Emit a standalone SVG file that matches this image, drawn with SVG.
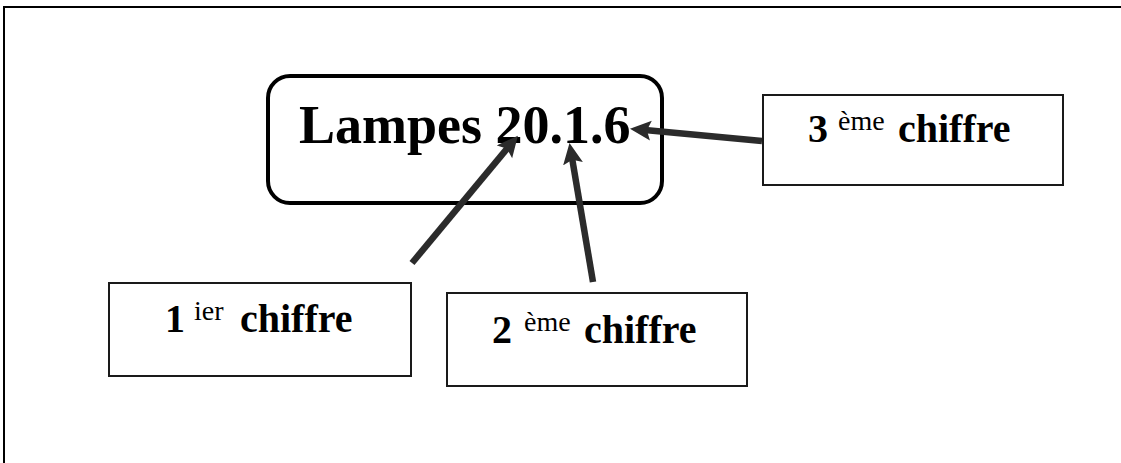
<svg xmlns="http://www.w3.org/2000/svg" width="1121" height="463" viewBox="0 0 1121 463">
<style>
.frame{stroke:#000;stroke-width:2;fill:none}
.box{fill:#fff;stroke:#1a1a1a;stroke-width:2}
.main{fill:#fff;stroke:#000;stroke-width:4}
.t{font-family:"Liberation Serif","Times New Roman",serif;fill:#000}
.big{font-size:54px;font-weight:bold}
.num{font-size:40px;font-weight:bold}
.sup{font-size:28px;font-weight:normal}
.arr{stroke:#2b2b2b;stroke-width:6.5;fill:none;marker-end:url(#ah)}
</style>
<defs>
<marker id="ah" markerUnits="userSpaceOnUse" markerWidth="24" markerHeight="22" refX="6" refY="10" orient="auto">
<path d="M0,0 L21,10 L0,20 L4,10 z" fill="#2b2b2b"/>
</marker>
</defs>
<rect width="1121" height="463" fill="#fff"/>
<path class="frame" d="M4,463 V7 H1121"/>
<g id="main">
<rect class="main" x="268" y="76" width="394" height="127" rx="22"/>
<text class="t big" x="299" y="143">Lampes 20.1.6</text>
</g>
<g id="box3">
<rect class="box" x="763" y="95" width="300" height="90"/>
<text class="t" y="142"><tspan class="num" x="808">3</tspan><tspan class="sup" x="838" dy="-12">ème</tspan><tspan class="num" x="898" dy="12">chiffre</tspan></text>
</g>
<g id="box1">
<rect class="box" x="109" y="283" width="302" height="93"/>
<text class="t" y="332"><tspan class="num" x="165">1</tspan><tspan class="sup" x="194" dy="-12">ier</tspan><tspan class="num" x="240" dy="12">chiffre</tspan></text>
</g>
<g id="box2">
<rect class="box" x="447" y="293" width="300" height="93"/>
<text class="t" y="343"><tspan class="num" x="492">2</tspan><tspan class="sup" x="524" dy="-12">ème</tspan><tspan class="num" x="584" dy="12">chiffre</tspan></text>
</g>
<g id="connectors">
<path class="arr" d="M412,263 L508.3,147.2"/>
<path class="arr" d="M593,282 L572,157.8"/>
<path class="arr" d="M762,141 L644.9,130.1"/>
</g>
</svg>
